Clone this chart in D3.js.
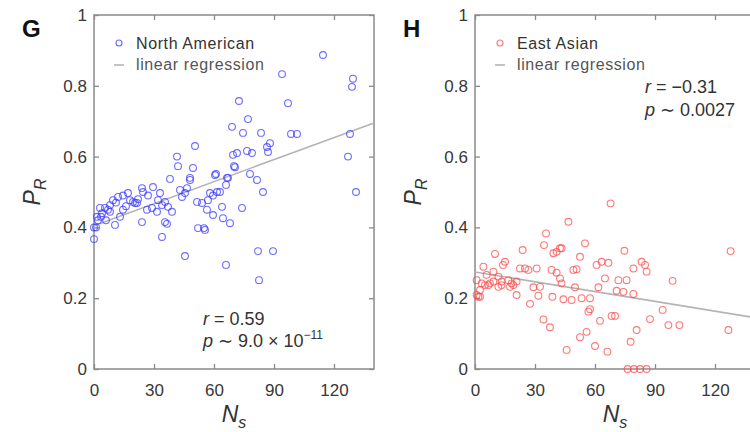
<!DOCTYPE html>
<html><head><meta charset="utf-8">
<script src="https://cdn.jsdelivr.net/npm/d3@7"></script>
<style>
body{margin:0;background:#fff}
svg{display:block}
text{font-family:"Liberation Sans",Arial,Helvetica,sans-serif}
</style>
</head><body>
<svg id="c" width="750" height="432"></svg>
<script>
// ---- data ----
const xTicks = [0, 30, 60, 90, 120];
const yTicks = [0, 0.2, 0.4, 0.6, 0.8, 1];
const yTickLabels = ["0", "0.2", "0.4", "0.6", "0.8", "1"];
const xDomain = [0, 140];
const yDomain = [0, 1];

// North American (panel G)
const naNs = [114.5,94,129.5,129,72.5,97,77,69,74.5,83.5,98.5,101.5,128,88,86.5,71.5,76.5,79,87,127,70,61,78,67,50.5,41.5,42,49.5,38,48,81.5,84.5,74,63,59.5,57,51.5,54,56.5,59.5,64,64.5,68,52,55,45.5,66,82,89.5,82.5,131,
  0,0,1,2,4,5.5,8,9.5,12,14.5,17,20.5,19.5,24,24.5,29.5,10.5,24,8,14.5,13,29,31.5,34,37,39,35.5,36.5,34,43,46.5,44,45.5,48,33,32,35.5,26.5,18,21.5,3.5,6,3,58,61.5,70.5,69.5,60.5,66.5,1.5,16,22,11,7,27,66,55.5];
const naPR = [0.887,0.833,0.82,0.797,0.757,0.751,0.706,0.684,0.667,0.667,0.664,0.664,0.664,0.638,0.627,0.61,0.616,0.61,0.613,0.60,0.573,0.551,0.551,0.54,0.63,0.60,0.573,0.568,0.537,0.534,0.534,0.50,0.455,0.50,0.49,0.477,0.472,0.469,0.45,0.435,0.458,0.426,0.412,0.398,0.398,0.319,0.294,0.333,0.333,0.251,0.50,
  0.40,0.367,0.40,0.42,0.44,0.455,0.463,0.477,0.486,0.49,0.497,0.469,0.472,0.511,0.50,0.514,0.407,0.415,0.444,0.45,0.43,0.455,0.444,0.463,0.458,0.444,0.415,0.41,0.373,0.506,0.511,0.486,0.497,0.54,0.497,0.477,0.472,0.45,0.477,0.469,0.43,0.42,0.455,0.497,0.5,0.57,0.605,0.548,0.54,0.43,0.46,0.48,0.47,0.45,0.49,0.52,0.393];

// East Asian (panel H)
const eaNs = [67.8,46.7,35.5,34.5,55,23.8,43.3,40.8,74.7,127.8,10,52.5,15,14,83.3,85,4.2,60.8,63.3,66.7,22.5,25,26.7,30.8,38.3,40.8,49.2,50.8,79.2,85.8,9.2,5.8,11.7,65,42.5,43.3,71.7,75.8,98.8,0.8,3.3,6.7,9.2,13.3,16.7,18.3,20.8,17.5,19.2,29.2,32.5,50,61.7,70.8,74.2,79.2,0.8,2.5,20.8,31.7,38.7,44.2,48.3,53.3,57.5,27.5,57.5,56.7,93.8,34.2,37.5,62.5,68.3,70,87.5,96.7,102.2,80.8,55.8,52.5,126.7,77.8,60,45.8,66.2,76.3,79.5,82.5,85.8,
  2.5,1.7,11.7,13.3,7.5,5,42.5,39.2];
const eaPR = [0.468,0.416,0.383,0.35,0.355,0.336,0.341,0.331,0.334,0.333,0.325,0.317,0.303,0.294,0.303,0.294,0.289,0.294,0.303,0.30,0.284,0.284,0.28,0.284,0.28,0.272,0.28,0.282,0.284,0.275,0.275,0.266,0.261,0.256,0.256,0.242,0.251,0.251,0.249,0.251,0.242,0.237,0.247,0.247,0.251,0.242,0.247,0.232,0.237,0.231,0.232,0.231,0.231,0.221,0.218,0.212,0.209,0.204,0.209,0.207,0.204,0.197,0.195,0.20,0.20,0.184,0.169,0.162,0.167,0.14,0.118,0.136,0.15,0.15,0.141,0.124,0.124,0.11,0.105,0.09,0.11,0.077,0.065,0.054,0.049,0,0,0,0,
  0.223,0.204,0.232,0.237,0.242,0.237,0.341,0.327];

// regression line endpoints (at Ns = 0 and 140)
const fitNs = [0, 140];
const naFit = [0.405, 0.695];
const eaFit = [0.274, 0.145];

const legendNames = ["North American", "East Asian"];
const panelLetters = ["G", "H"];

// ---- layout ----
const svg = d3.select("#c");
const plotTop = 15, plotBottom = 369, plotW = 280;
const panels = [
  {left: 94, letter: panelLetters[0], name: legendNames[0], xs: naNs, ys: naPR, fit: naFit, color: "#3a3aff",
   stats: {x: 203, y1: 325, y2: 347, r: "0.59", p: ["9.0 × 10", "−11"]}},
  {left: 475, letter: panelLetters[1], name: legendNames[1], xs: eaNs, ys: eaPR, fit: eaFit, color: "#ff4a4a",
   stats: {x: 645, y1: 93, y2: 116, r: "−0.31", p: ["0.0027", null]}}
];

const axisColor = "#8a8a8a", labelColor = "#383838";

panels.forEach(p => {
  const x = d3.scaleLinear().domain(xDomain).range([p.left, p.left + plotW]);
  const y = d3.scaleLinear().domain(yDomain).range([plotBottom, plotTop]);
  const g = svg.append("g");

  // frame
  g.append("rect").attr("x", x(xDomain[0])).attr("y", y(yDomain[1]))
    .attr("width", x(xDomain[1]) - x(xDomain[0])).attr("height", y(yDomain[0]) - y(yDomain[1]))
    .attr("fill", "none").attr("stroke", axisColor).attr("stroke-width", 1.5);

  const fmt = (d, i) => yTickLabels[i];
  const axes = [
    g.append("g").attr("transform", `translate(0,${plotBottom})`)
      .call(d3.axisBottom(x).tickValues(xTicks).tickSize(-5).tickSizeOuter(0).tickPadding(15)),
    g.append("g").attr("transform", `translate(0,${plotTop})`)
      .call(d3.axisTop(x).tickValues(xTicks).tickSize(-5).tickSizeOuter(0).tickFormat("")),
    g.append("g").attr("transform", `translate(${p.left},0)`)
      .call(d3.axisLeft(y).tickValues(yTicks).tickSize(-5).tickSizeOuter(0).tickPadding(7).tickFormat(fmt)),
    g.append("g").attr("transform", `translate(${p.left + plotW},0)`)
      .call(d3.axisRight(y).tickValues(yTicks).tickSize(-5).tickSizeOuter(0).tickFormat(""))
  ];
  axes.forEach(a => {
    a.select(".domain").remove();
    a.selectAll(".tick line").attr("stroke", axisColor).attr("stroke-width", 1.3);
    a.selectAll(".tick text").attr("fill", labelColor).attr("font-size", 17)
      .attr("font-family", '"Liberation Sans",Arial,sans-serif');
  });

  // regression line
  g.append("line")
    .attr("x1", x(fitNs[0])).attr("y1", y(p.fit[0]))
    .attr("x2", x(fitNs[1])).attr("y2", y(p.fit[1]))
    .attr("stroke", "#b4b4b4").attr("stroke-width", 1.6);

  // points
  g.append("g").selectAll("circle").data(p.xs.map((v, i) => [v, p.ys[i]])).join("circle")
    .attr("cx", d => x(d[0])).attr("cy", d => y(d[1])).attr("r", 3.4)
    .attr("fill", "none").attr("stroke", p.color).attr("stroke-opacity", 0.75).attr("stroke-width", 1.1);

  // legend
  const lx = p.left + 25;
  g.append("circle").attr("cx", lx).attr("cy", 43).attr("r", 3)
    .attr("fill", "none").attr("stroke", p.color).attr("stroke-opacity", 0.75).attr("stroke-width", 1.1);
  g.append("line").attr("x1", lx - 5).attr("x2", lx + 5).attr("y1", 65).attr("y2", 65)
    .attr("stroke", "#b4b4b4").attr("stroke-width", 1.6);
  g.append("text").attr("x", lx + 17).attr("y", 49).attr("font-size", 16).attr("letter-spacing", 0.6)
    .attr("fill", "#333").text(p.name);
  g.append("text").attr("x", lx + 17).attr("y", 70).attr("font-size", 16).attr("letter-spacing", 0.6)
    .attr("fill", "#555").text("linear regression");

  // panel letter
  g.append("text").attr("x", p.left - 72).attr("y", 37).attr("font-size", 24).attr("font-weight", "bold")
    .attr("fill", "#111").text(p.letter);

  // stats
  const s = p.stats;
  const t1 = g.append("text").attr("x", s.x).attr("y", s.y1).attr("font-size", 18).attr("fill", "#333");
  t1.append("tspan").attr("font-style", "italic").text("r");
  t1.append("tspan").text(" = " + s.r);
  const t2 = g.append("text").attr("x", s.x).attr("y", s.y2).attr("font-size", 18).attr("fill", "#333");
  t2.append("tspan").attr("font-style", "italic").text("p");
  t2.append("tspan").text(" ∼ " + s.p[0]);
  if (s.p[1]) t2.append("tspan").attr("font-size", 12).attr("dy", -8).text(s.p[1]);

  // axis titles
  const xl = g.append("text").attr("x", (x(xDomain[0]) + x(xDomain[1])) / 2).attr("y", 422)
    .attr("text-anchor", "middle").attr("font-size", 23).attr("fill", "#333");
  xl.append("tspan").attr("font-style", "italic").text("N");
  xl.append("tspan").attr("font-style", "italic").attr("font-size", 16).attr("dy", 6).text("s");

  const yl = g.append("text").attr("transform", `translate(${p.left - 54},192) rotate(-90)`)
    .attr("text-anchor", "middle").attr("font-size", 23).attr("fill", "#333");
  yl.append("tspan").attr("font-style", "italic").text("P");
  yl.append("tspan").attr("font-style", "italic").attr("font-size", 16).attr("dy", 6).text("R");
});
</script>
</body></html>
